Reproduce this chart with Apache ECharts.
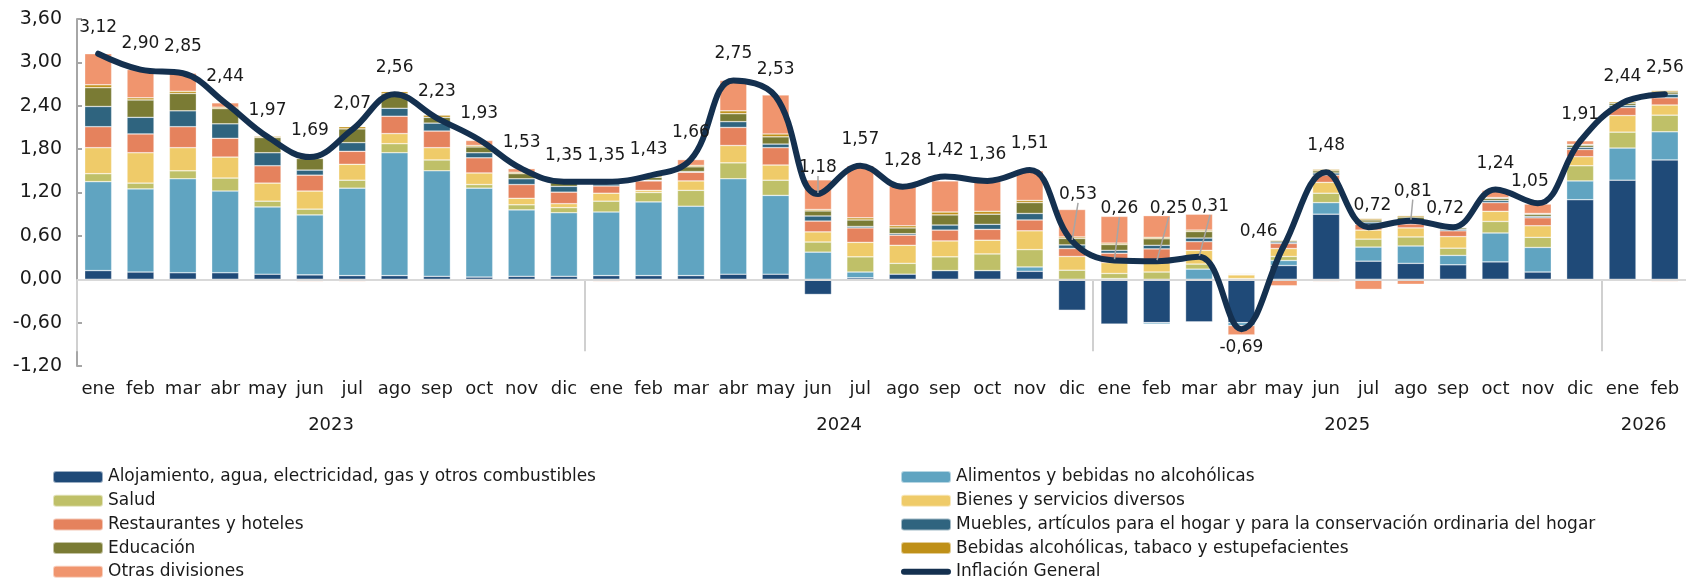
<!DOCTYPE html>
<html>
<head>
<meta charset="utf-8">
<script src="https://cdn.jsdelivr.net/npm/echarts@6/dist/echarts.min.js"></script>
<style>
  html, body { margin: 0; padding: 0; background: #fff; }
  #main { width: 1686px; height: 580px; }
</style>
</head>
<body>
<div id="main"></div>
<script>
// meses (ene 2023 - feb 2026)
var months = ['ene','feb','mar','abr','may','jun','jul','ago','sep','oct','nov','dic',
              'ene','feb','mar','abr','may','jun','jul','ago','sep','oct','nov','dic',
              'ene','feb','mar','abr','may','jun','jul','ago','sep','oct','nov','dic',
              'ene','feb'];
var years = ['2023', '2024', '2025', '2026'];
var yearCenters = [6, 18, 30, 37];
var yearBreaks = [0, 12, 24, 36];

// incidencias por división
var alojamiento = [0.12,0.10,0.09,0.09,0.07,0.06,0.05,0.05,0.04,0.03,0.04,0.04,
                   0.05,0.05,0.05,0.07,0.07,-0.21,0.02,0.07,0.12,0.12,0.11,-0.43,
                   -0.62,-0.60,-0.59,-0.60,0.19,0.90,0.25,0.22,0.20,0.24,0.10,1.10,
                   1.37,1.65];
var alimentos = [1.23,1.15,1.30,1.13,0.93,0.83,1.21,1.70,1.46,1.23,0.92,0.88,
                 0.88,1.02,0.96,1.32,1.09,0.375,0.08,-0.02,0,0,0.06,0,
                 0.01,-0.02,0.14,-0.04,0.07,0.16,0.195,0.24,0.13,0.40,0.34,0.26,
                 0.445,0.39];
var salud = [0.11,0.08,0.11,0.18,0.08,0.08,0.11,0.125,0.15,0.05,0.07,0.07,
             0.15,0.13,0.22,0.22,0.21,0.14,0.21,0.15,0.19,0.23,0.24,0.125,
             0.07,0.10,0.07,0.01,0.055,0.13,0.11,0.125,0.10,0.16,0.14,0.21,
             0.22,0.23];
var bienes = [0.36,0.42,0.32,0.29,0.25,0.25,0.22,0.14,0.17,0.16,0.09,0.055,
              0.11,0.03,0.13,0.24,0.21,0.14,0.20,0.25,0.22,0.19,0.26,0.19,
              0.15,0.13,0.19,0.05,0.11,0.15,0.125,0.125,0.16,0.14,0.16,0.125,
              0.23,0.14];
var restaurantes = [0.29,0.26,0.29,0.26,0.24,0.22,0.18,0.24,0.23,0.21,0.19,0.16,
                    0.10,0.13,0.12,0.25,0.24,0.15,0.20,0.14,0.15,0.15,0.15,0.11,
                    0.13,0.19,0.12,0.01,0.07,0.10,0.08,0.055,0.08,0.12,0.11,0.10,
                    0.11,0.10];
var muebles = [0.28,0.23,0.22,0.20,0.18,0.07,0.12,0.11,0.11,0.07,0.08,0.08,
               0.03,0.01,0.01,0.08,0.05,0.07,0.02,0.02,0.07,0.07,0.09,0.05,
               0.04,0.05,0.05,0,0.02,0.03,0.03,0.03,0.02,0.03,0.02,0.03,
               0.03,0.05];
var educacion = [0.26,0.24,0.24,0.21,0.21,0.16,0.19,0.20,0.08,0.08,0.07,0.05,
                 0.02,0.04,0.065,0.11,0.10,0.07,0.09,0.08,0.14,0.14,0.15,0.09,
                 0.08,0.09,0.09,0.01,0.02,0.03,0.03,0.065,0.02,0.03,0.03,0.03,
                 0.03,0.03];
var bebidas = [0.04,0.03,0.03,0.02,0.02,0.01,0.03,0.03,0.03,0.02,0.02,0.01,
               0.01,0.02,0.02,0.04,0.04,0.02,0.03,0.03,0.04,0.04,0.03,0.02,
               0.02,0.02,0.02,0,0.01,0.02,0.02,0.02,0.01,0.01,0.01,0.01,
               0.02,0.02];
var otras = [0.43,0.39,0.25,0.06,0,-0.03,-0.03,-0.02,-0.02,0.07,0.05,-0.02,
             -0.03,-0.02,0.08,0.42,0.54,0.41,0.72,0.55,0.43,0.41,0.41,0.38,
             0.37,0.30,0.22,-0.13,-0.09,-0.03,-0.14,-0.07,-0.02,0.10,0.13,0.05,
             -0.01,-0.03];
var inflacion = [3.12,2.90,2.85,2.44,1.97,1.69,2.07,2.56,2.23,1.93,1.53,1.35,
                 1.35,1.43,1.66,2.75,2.53,1.18,1.57,1.28,1.42,1.36,1.51,0.53,
                 0.26,0.25,0.31,-0.69,0.46,1.48,0.72,0.81,0.72,1.24,1.05,1.91,
                 2.44,2.56];

// ajustes de etiquetas de la línea: [dx, dy]
var labelMoves = {23: [6, -20], 24: [5, -25], 25: [12, -26], 26: [11, -24],
                  28: [-25, 12], 30: [4, 5], 31: [2, -3], 32: [-8, 8], 34: [-8, 5]};
var leaderIdx = [17, 23, 24, 25, 26, 31];

var FONT = 'DejaVu Sans';
var FW = 'normal';
var TXT = '#1a1a1a';
function fmt(v) { return Number(v).toFixed(2).replace('.', ','); }

var divisions = [
  { name: 'Alojamiento, agua, electricidad, gas y otros combustibles', data: alojamiento, color: '#1f4a78' },
  { name: 'Alimentos y bebidas no alcohólicas', data: alimentos, color: '#60a4c1' },
  { name: 'Salud', data: salud, color: '#bfc068' },
  { name: 'Bienes y servicios diversos', data: bienes, color: '#efcb69' },
  { name: 'Restaurantes y hoteles', data: restaurantes, color: '#e5825d' },
  { name: 'Muebles, artículos para el hogar y para la conservación ordinaria del hogar', data: muebles, color: '#2f647f' },
  { name: 'Educación', data: educacion, color: '#7a7b34' },
  { name: 'Bebidas alcohólicas, tabaco y estupefacientes', data: bebidas, color: '#bf9018' },
  { name: 'Otras divisiones', data: otras, color: '#f0956e' }
];

var series = divisions.map(function (d, i) {
  var s = {
    name: d.name,
    type: 'bar',
    stack: 'total',
    barWidth: 27,
    data: d.data,
    itemStyle: { color: d.color, borderColor: 'rgba(255,255,255,0.55)', borderWidth: 0.6 },
    emphasis: { disabled: true }
  };
  if (i === 0) {
    s.markLine = {
      silent: true, symbol: 'none', animation: false,
      label: { show: false },
      lineStyle: { color: '#d9d9d9', width: 2, type: 'solid' },
      data: [{ yAxis: 0 }]
    };
  }
  return s;
});

series.push({
  name: 'Inflación General',
  type: 'line',
  smooth: 0.4,
  symbol: 'circle',
  symbolSize: 2,
  showSymbol: true,
  z: 10,
  lineStyle: { color: '#14304f', width: 6, cap: 'round' },
  itemStyle: { color: '#14304f' },
  label: {
    show: true, position: 'top', distance: 17,
    fontFamily: FONT, fontWeight: FW, fontSize: 17, color: TXT,
    formatter: function (p) { return fmt(p.value); }
  },
  labelLayout: function (p) {
    var m = labelMoves[p.dataIndex];
    return m ? { dx: m[0], dy: m[1] } : {};
  },
  data: inflacion.map(function (v, i) {
    var item = { value: v };
    if (v < 0) item.label = { position: 'bottom', distance: 9 };
    if (leaderIdx.indexOf(i) >= 0) {
      item.labelLine = { show: true, lineStyle: { color: '#a6a6a6', width: 1.5 } };
    }
    return item;
  })
});

var legendText = { fontFamily: FONT, fontWeight: FW, fontSize: 17, color: TXT, lineHeight: 18 };
var lineIcon = 'path://M3,0 L47,0 A3,3 0 0 1 47,6 L3,6 A3,3 0 0 1 3,0 Z';

var option = {
  backgroundColor: '#fff',
  animation: false,
  grid: { left: 77, right: 0, top: 19, bottom: 214, containLabel: false },
  legend: [
    {
      orient: 'vertical', left: 52, top: 468, height: 160, padding: 0,
      itemWidth: 50, itemHeight: 12, itemGap: 5.7,
      textStyle: legendText,
      data: [divisions[0].name, divisions[2].name, divisions[4].name, divisions[6].name, divisions[8].name]
    },
    {
      orient: 'vertical', left: 900, top: 468, height: 160, padding: 0,
      itemWidth: 50, itemHeight: 12, itemGap: 5.7,
      textStyle: legendText,
      data: [divisions[1].name, divisions[3].name, divisions[5].name, divisions[7].name,
             { name: 'Inflación General', icon: lineIcon, itemStyle: { color: '#14304f' } }]
    }
  ],
  xAxis: [
    {
      type: 'category', data: months, position: 'bottom',
      axisLine: { show: false, onZero: false },
      axisTick: { show: false },
      axisLabel: { interval: 0, margin: 14, fontFamily: FONT, fontWeight: FW, fontSize: 18, color: TXT }
    },
    {
      type: 'value', min: 0, max: 38, position: 'bottom',
      axisLine: { show: false },
      splitLine: { show: false },
      axisTick: { show: true, customValues: yearBreaks, length: 72, lineStyle: { color: '#d0d0d0', width: 2 } },
      axisLabel: {
        customValues: yearCenters, margin: 50, fontFamily: FONT, fontWeight: FW, fontSize: 18, color: TXT,
        formatter: function (v) { var k = yearCenters.indexOf(v); return k >= 0 ? years[k] : ''; }
      }
    }
  ],
  yAxis: {
    type: 'value', min: -1.2, max: 3.6, interval: 0.6,
    axisLine: { show: true, lineStyle: { color: '#a6a6a6', width: 2 } },
    axisTick: { show: true, inside: true, length: 5, lineStyle: { color: '#a6a6a6', width: 2 } },
    splitLine: { show: false },
    axisLabel: { margin: 15, fontFamily: FONT, fontWeight: FW, fontSize: 19, color: TXT, formatter: fmt }
  },
  series: series
};

var chart = echarts.init(document.getElementById('main'));
chart.setOption(option);
</script>
</body>
</html>
